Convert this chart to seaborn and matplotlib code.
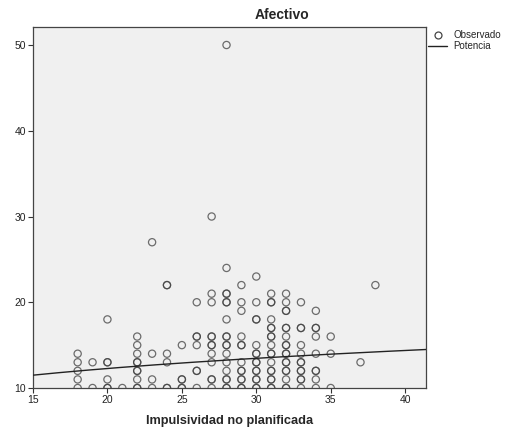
import matplotlib
matplotlib.use("Agg")
import matplotlib.pyplot as plt
import seaborn as sns
import numpy as np
import pandas as pd
from matplotlib.lines import Line2D

# ---- data ----
x18 = [10, 11, 12, 13, 14]
x19 = [10, 13]
x20 = [10, 10, 11, 13, 13, 18]
x21 = [10]
x22 = [10, 10, 11, 12, 12, 13, 13, 14, 15, 16]
x23 = [10, 11, 14, 27]
x24 = [10, 10, 13, 14, 22, 22]
x25 = [10, 10, 11, 11, 15]
x26 = [10, 12, 12, 15, 16, 16, 20]
x27 = [10, 11, 11, 13, 14, 15, 15, 16, 16, 20, 21, 30]
x28 = [10, 10, 11, 11, 12, 13, 14, 15, 15, 16, 16, 18, 20, 20, 21, 21, 24, 50]
x29 = [10, 10, 11, 11, 12, 12, 13, 15, 15, 16, 19, 20, 22]
x30 = [10, 10, 11, 11, 12, 12, 13, 13, 14, 14, 15, 18, 18, 20, 23]
x31 = [10, 10, 11, 11, 12, 12, 13, 14, 14, 15, 16, 16, 17, 17, 18, 20, 20, 21]
x32 = [10, 10, 11, 12, 12, 13, 13, 14, 14, 15, 15, 16, 17, 17, 19, 19, 20, 21]
x33 = [10, 11, 11, 12, 12, 13, 13, 14, 15, 17, 17, 20]
x34 = [10, 11, 12, 12, 14, 16, 17, 17, 19]
x35 = [10, 14, 16]
x37 = [13]
x38 = [22]

columns = {18: x18, 19: x19, 20: x20, 21: x21, 22: x22, 23: x23, 24: x24,
           25: x25, 26: x26, 27: x27, 28: x28, 29: x29, 30: x30, 31: x31,
           32: x32, 33: x33, 34: x34, 35: x35, 37: x37, 38: x38}

# power model y = a * x^b (coefficients)
power_a = 6.2
power_b = 0.228

x_ticks = [15, 20, 25, 30, 35, 40]
y_ticks = [10, 20, 30, 40, 50]
title = "Afectivo"
x_label = "Impulsividad no planificada"
legend_labels = ["Observado", "Potencia"]

# ---- build frames ----
obs = pd.DataFrame([(k, v) for k, vals in columns.items() for v in vals],
                   columns=["x", "y"])
xs = np.linspace(15, 41.4, 200)
fit = pd.DataFrame({"x": xs, "y": power_a * xs ** power_b})

sns.set_style("ticks")
plt.rcParams["font.family"] = ["Liberation Sans", "DejaVu Sans"]

fig = plt.figure(figsize=(5.07, 4.30), dpi=100)
ax = fig.add_axes([33 / 507, 1 - 388 / 430, (426 - 33) / 507, (388 - 27) / 430])
ax.set_facecolor("#f0f0f0")

sns.scatterplot(data=obs, x="x", y="y", ax=ax, marker="o", s=27,
                facecolor="none", edgecolor=(0.25, 0.25, 0.25, 0.75),
                linewidth=0.9, zorder=3)
sns.lineplot(data=fit, x="x", y="y", ax=ax, color="#222222", linewidth=1.0,
             zorder=4)

ax.set_xlim(15, 41.4)
ax.set_ylim(10, 52.1)
ax.set_xticks(x_ticks)
ax.set_yticks(y_ticks)
ax.tick_params(axis="both", labelsize=7.5, length=3.5, width=0.8,
               color="#333333", pad=1.5, labelcolor="#222222")
for sp in ax.spines.values():
    sp.set_visible(True)
    sp.set_color("#444444")
    sp.set_linewidth(0.9)
ax.set_xlabel("")
ax.set_ylabel("")

fig.text(282 / 507, 1 - 15 / 430, title, ha="center", va="center",
         fontsize=10, fontweight="bold")
fig.text(230 / 507, 1 - 421 / 430, x_label, ha="center", va="center",
         fontsize=9.2, fontweight="bold")

handles = [Line2D([], [], marker="o", linestyle="none", markersize=5,
                  markerfacecolor="none", markeredgecolor="#444444",
                  markeredgewidth=0.9),
           Line2D([], [], color="#222222", linewidth=1.0)]
fig.legend(handles, legend_labels, loc="upper left",
           bbox_to_anchor=(426 / 507, 1 - 28 / 430), frameon=False,
           fontsize=7, handlelength=2.0, handletextpad=0.65,
           labelspacing=0.15, borderaxespad=0, borderpad=0.2)

fig.savefig("out.png", dpi=100, facecolor="white")
